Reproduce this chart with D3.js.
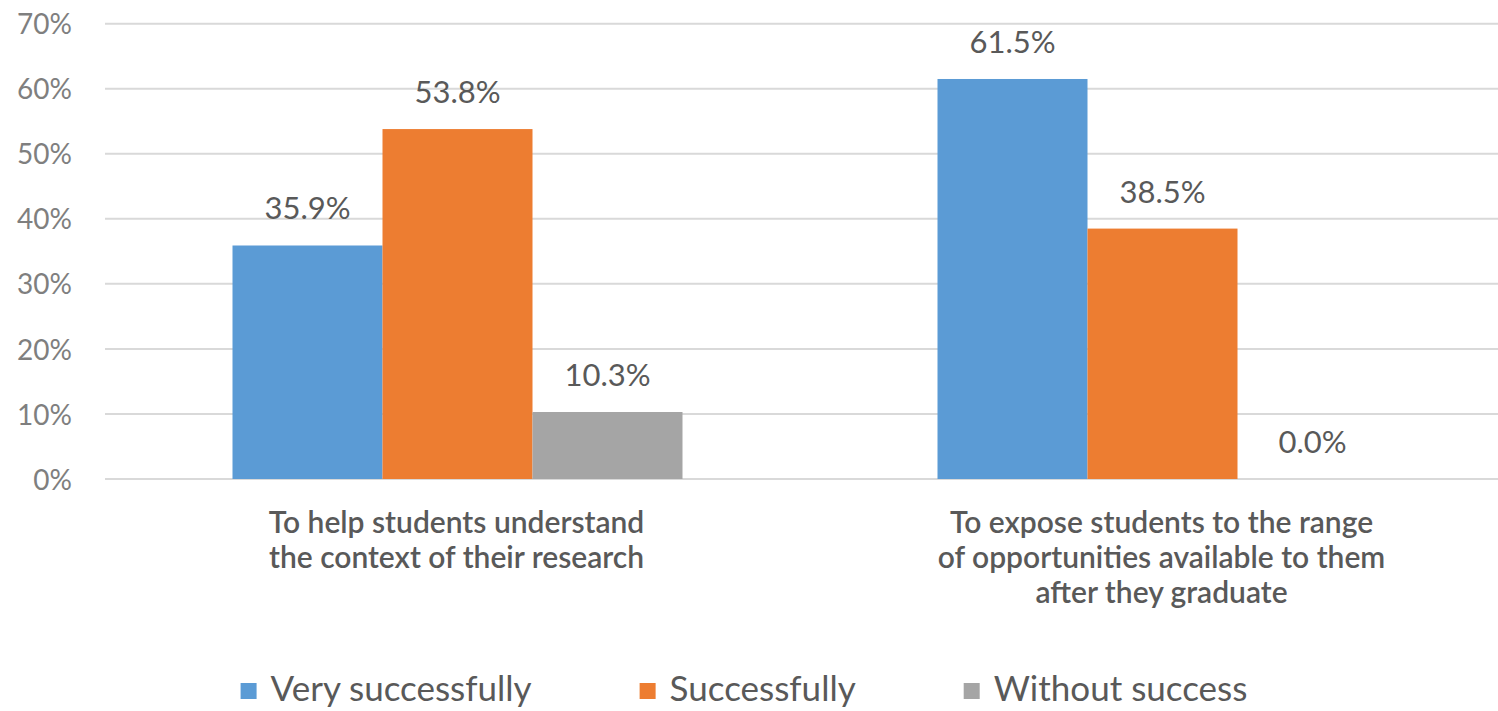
<!DOCTYPE html>
<html>
<head>
<meta charset="utf-8">
<script src="https://cdn.jsdelivr.net/npm/d3@7"></script>
<style>
  html, body { margin: 0; padding: 0; background: #fff; overflow: hidden; }
  svg { display: block; }
  text { font-family: Lato, "Open Sans", sans-serif; }
</style>
</head>
<body>
<svg id="chart" width="1498" height="711"></svg>
<script>
const categories = [
  ["To help students understand", "the context of their research"],
  ["To expose students to the range", "of opportunities available to them", "after they graduate"]
];
const categoryKeys = ["help", "expose"];
const seriesNames = ["Very successfully", "Successfully", "Without success"];
const seriesColors = ["#5B9BD5", "#ED7D31", "#A5A5A5"];
const verySuccessfully = [35.9, 61.5];
const successfully = [53.8, 38.5];
const withoutSuccess = [10.3, 0.0];
const yTicks = [0, 10, 20, 30, 40, 50, 60, 70];

const seriesValues = [verySuccessfully, successfully, withoutSuccess];

const svg = d3.select("#chart");
const plotLeft = 105, plotRight = 1515, plotTop = 23.7, plotBottom = 479;

const y = d3.scaleLinear().domain([0, 70]).range([plotBottom, plotTop]);
const x0 = d3.scaleBand().domain(categoryKeys).range([plotLeft, plotRight])
  .paddingInner(0.3617).paddingOuter(0.18085);
const x1 = d3.scaleBand().domain(seriesNames).range([0, x0.bandwidth()]);

// gridlines
const grid = svg.append("g");
grid.selectAll("line").data(yTicks).join("line")
  .attr("x1", plotLeft).attr("x2", 1498)
  .attr("y1", d => y(d)).attr("y2", d => y(d))
  .attr("stroke", "#D9D9D9").attr("stroke-width", 2);

// y axis
const yAxis = d3.axisLeft(y).tickValues(yTicks).tickFormat(d => d + "%").tickSize(0).tickPadding(0);
const ya = svg.append("g").attr("transform", "translate(72,0)").call(yAxis);
ya.select(".domain").remove();
ya.selectAll("text").attr("font-size", 28).attr("fill", "#7F7F7F")
  .attr("font-family", "Lato, sans-serif").attr("dy", "0.36em");

// bars
const groups = svg.append("g").selectAll("g").data(categoryKeys).join("g")
  .attr("transform", d => `translate(${x0(d)},0)`);

groups.each(function(cat, ci) {
  const g = d3.select(this);
  const rows = seriesNames.map((s, si) => ({ s, si, v: seriesValues[si][ci] }));
  g.selectAll("rect").data(rows).join("rect")
    .attr("x", d => x1(d.s)).attr("width", x1.bandwidth())
    .attr("y", d => y(d.v)).attr("height", d => y(0) - y(d.v))
    .attr("fill", d => seriesColors[d.si]);
  g.selectAll("text.val").data(rows).join("text").attr("class", "val")
    .attr("x", d => x1(d.s) + x1.bandwidth() / 2)
    .attr("y", d => y(d.v) - 26)
    .attr("text-anchor", "middle")
    .attr("font-size", 31).attr("fill", "#595959")
    .text(d => d.v.toFixed(1) + "%");
});

// category labels
categoryKeys.forEach((k, ci) => {
  const cx = x0(k) + x0.bandwidth() / 2 - 1;
  const t = svg.append("text").attr("text-anchor", "middle")
    .attr("font-size", 30).attr("font-weight", 600).attr("fill", "#595959");
  categories[ci].forEach((line, li) => {
    t.append("tspan").attr("x", cx).attr("y", 533 + li * 35).text(line);
  });
});

// legend
const legend = svg.append("g");
let lx = 0;
seriesNames.forEach((s, i) => {
  const g = legend.append("g");
  g.append("rect").attr("x", 0).attr("y", 683).attr("width", 16).attr("height", 16)
    .attr("fill", seriesColors[i]);
  const t = g.append("text").attr("x", 30).attr("y", 701)
    .attr("font-size", 35).attr("fill", "#595959").text(s);
  const w = 30 + t.node().getComputedTextLength();
  g.attr("transform", `translate(${lx},0)`);
  lx += w + 108;
});
const totalW = lx - 108;
legend.attr("transform", `translate(${744 - totalW / 2},0)`);
</script>
</body>
</html>
